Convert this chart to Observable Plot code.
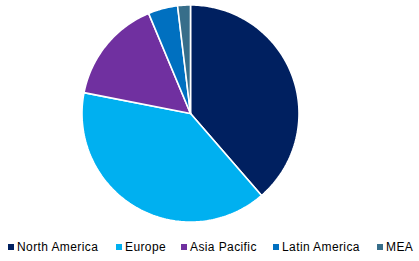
<!DOCTYPE html>
<html>
<head>
<meta charset="utf-8">
<script src="https://cdn.jsdelivr.net/npm/d3@7"></script>
<script src="https://cdn.jsdelivr.net/npm/@observablehq/plot@0.6"></script>
<style>
  html, body { margin: 0; padding: 0; background: #fff; }
  body { width: 419px; height: 261px; position: relative; overflow: hidden; font-family: "Liberation Sans", Arial, sans-serif; }
  #chart { position: absolute; left: 0; top: 0; }
  .legend { position: absolute; top: 239px; left: 0; width: 419px; height: 18px; font-size: 12px; color: #000; }
  .item { position: absolute; top: 0; display: flex; align-items: center; height: 16px; white-space: nowrap; letter-spacing: 0.4px; }
  .sw { width: 6px; height: 6px; margin-right: 3px; }
</style>
</head>
<body>
<div id="chart"></div>
<div class="legend" id="legend"></div>
<script>
const regions = ["North America", "Europe", "Asia Pacific", "Latin America", "MEA"];
const shares = [38.6, 39.4, 15.6, 4.4, 1.9];
const colors = ["#002060", "#00b0f0", "#7030a0", "#0070c0", "#376e8a"];
const legendLeft = [8, 116, 181, 273, 377];

const arcs = d3.pie().sort(null).startAngle(0).endAngle(2 * Math.PI)(shares);
const pts = [];
arcs.forEach((a, i) => {
  const r = regions[i];
  pts.push({region: r, x: 0, y: 0});
  const n = Math.max(2, Math.ceil((a.endAngle - a.startAngle) / (Math.PI / 180)));
  for (let k = 0; k <= n; k++) {
    const t = a.startAngle + (a.endAngle - a.startAngle) * k / n;
    pts.push({region: r, x: Math.sin(t), y: Math.cos(t)});
  }
  pts.push({region: r, x: 0, y: 0});
});

const cx = 190, cy = 113, R = 108.5;
const plot = Plot.plot({
  width: 419,
  height: 234,
  margin: 0,
  x: {domain: [-1, 1], range: [cx - R, cx + R], axis: null},
  y: {domain: [-1, 1], range: [cy + R, cy - R], axis: null},
  color: {domain: regions, range: colors},
  marks: [
    Plot.line(pts, {x: "x", y: "y", z: "region", fill: "region", stroke: "white", strokeWidth: 1.6, strokeLinejoin: "miter", curve: "linear"})
  ]
});
document.getElementById("chart").appendChild(plot);

const lg = document.getElementById("legend");
regions.forEach((r, i) => {
  const it = document.createElement("div");
  it.className = "item";
  it.style.left = legendLeft[i] + "px";
  const sw = document.createElement("span");
  sw.className = "sw";
  sw.style.background = colors[i];
  const tx = document.createElement("span");
  tx.textContent = r;
  it.appendChild(sw); it.appendChild(tx);
  lg.appendChild(it);
});
</script>
</body>
</html>
